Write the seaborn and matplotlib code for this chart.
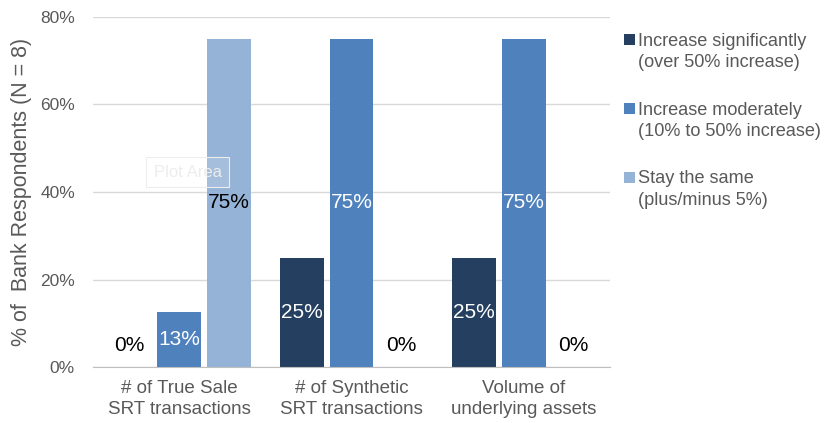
import matplotlib
matplotlib.use("Agg")
import matplotlib.pyplot as plt
import seaborn as sns
import pandas as pd
from matplotlib.patches import Patch
from matplotlib.ticker import FixedLocator, FuncFormatter

categories = ["# of True Sale\nSRT transactions", "# of Synthetic\nSRT transactions", "Volume of\nunderlying assets"]
series_names = ["Increase significantly\n(over 50% increase)",
                "Increase moderately\n(10% to 50% increase)",
                "Stay the same\n(plus/minus 5%)"]
increase_significantly = [0, 25, 25]
increase_moderately = [12.5, 75, 75]
stay_the_same = [75, 0, 0]
colors = ["#243F60", "#4F81BD", "#95B3D7"]
label_colors = ["white", "white", "black"]
y_ticks = [0, 20, 40, 60, 80]

rows = []
for s, vals in zip(series_names, [increase_significantly, increase_moderately, stay_the_same]):
    for c, v in zip(categories, vals):
        rows.append({"category": c, "series": s, "value": v})
df = pd.DataFrame(rows)

sns.set_style("white")
plt.rcParams["font.family"] = ["Liberation Sans", "DejaVu Sans"]

fig = plt.figure(figsize=(8.28, 4.23), dpi=100)
ax = fig.add_axes([93 / 828, 56 / 423, 517 / 828, 350 / 423])

sns.barplot(data=df, x="category", y="value", hue="series", palette=colors,
            order=categories, hue_order=series_names, width=0.87, gap=0.12,
            ax=ax, legend=False, saturation=1, linewidth=0, edgecolor="none")

ax.set_ylim(0, 80)
ax.set_xlim(-0.5, 2.5)
ax.yaxis.set_major_locator(FixedLocator(y_ticks))
ax.yaxis.set_major_formatter(FuncFormatter(lambda v, p: f"{int(v)}%"))
ax.grid(axis="y", color="#D9D9D9", linewidth=1)
ax.set_axisbelow(True)
for sp in ["left", "right", "top"]:
    ax.spines[sp].set_visible(False)
ax.spines["bottom"].set_color("#BFBFBF")
ax.tick_params(axis="y", length=0, pad=13, labelsize=12.5, labelcolor="#595959")
ax.tick_params(axis="x", which="major", length=0, pad=9, labelsize=13.5, labelcolor="#595959")
for t in ax.get_xticklabels():
    t.set_linespacing(1.35)
ax.xaxis.set_minor_locator(FixedLocator([-0.5, 0.5, 1.5, 2.5]))
ax.tick_params(axis="x", which="minor", length=5, color="#BFBFBF", width=1)
ax.set_xlabel("")
ax.set_ylabel("% of  Bank Respondents (N = 8)", fontsize=15.5, color="#595959", labelpad=6)

# Data labels
for container, lc in zip(ax.containers, label_colors):
    for bar in container:
        h = bar.get_height()
        x = bar.get_x() + bar.get_width() / 2
        txt = f"{int(h + 0.5)}%"
        if h == 0:
            ax.text(x, 5, txt, ha="center", va="center", fontsize=15, color="black")
        else:
            ax.text(x, h / 2, txt, ha="center", va="center", fontsize=15, color=lc)

# faint "Plot Area" artifact
ax.text(0.05, 44.5, "Plot Area", ha="center", va="center", fontsize=12, color="#EDEDED",
        bbox=dict(boxstyle="square,pad=0.45", fc=(1, 1, 1, 0.15), ec="#EDEDED", lw=0.8), zorder=5)

handles = [Patch(facecolor=c, edgecolor="none") for c in colors]
leg = fig.legend(handles, series_names, loc="upper left", bbox_to_anchor=(0.745, 0.94),
                 frameon=False, fontsize=13.1, labelspacing=1.66, handlelength=0.6,
                 handleheight=0.6, handletextpad=0.15, borderaxespad=0)
for t in leg.get_texts():
    t.set_color("#595959")
    t.set_linespacing(1.36)
for h in leg.legend_handles:
    h.set_y(h.get_y() + 9)

fig.savefig("out.png", dpi=100)
